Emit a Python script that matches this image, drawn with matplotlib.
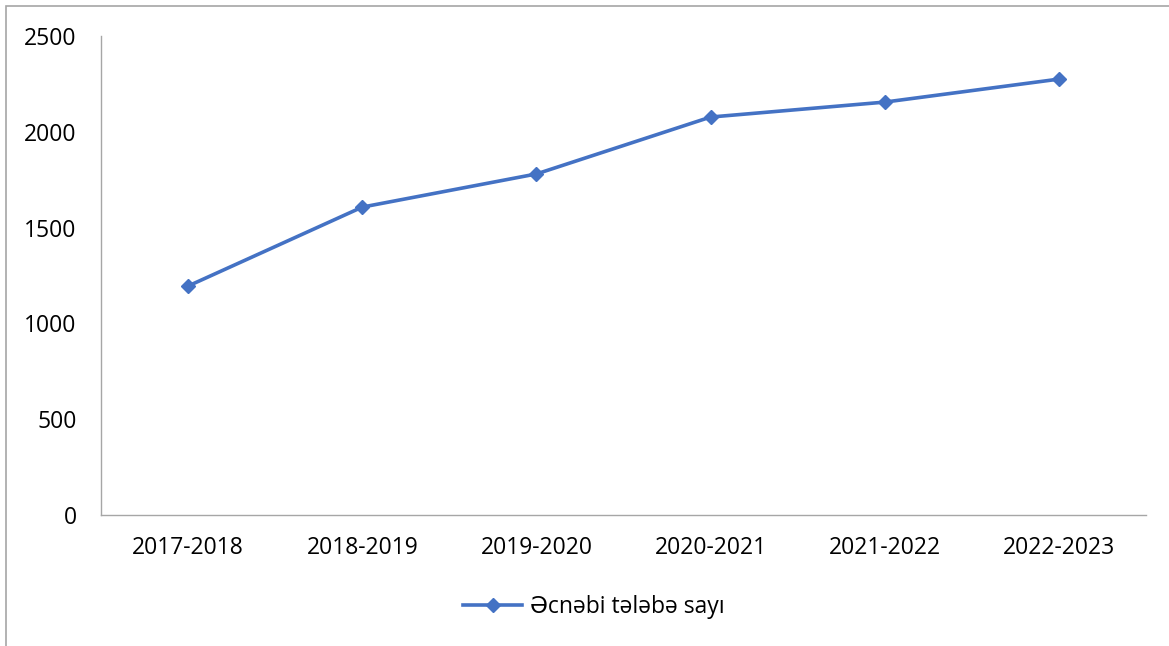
import matplotlib
matplotlib.use("Agg")
import matplotlib.pyplot as plt
from matplotlib.patches import Rectangle

categories = ["2017-2018", "2018-2019", "2019-2020", "2020-2021", "2021-2022", "2022-2023"]
values = [1195, 1607, 1780, 2077, 2155, 2275]
series_name = "Əcnəbi tələbə sayı"
yticks = [0, 500, 1000, 1500, 2000, 2500]

plt.rcParams['font.family'] = ['Open Sans', 'DejaVu Sans']
FS = 16.5

fig = plt.figure(figsize=(11.69, 6.46), dpi=100)
ax = fig.add_axes([101/1169, 1-515/646, (1146-101)/1169, (515-36)/646])

x = list(range(len(categories)))
ax.plot(x, values, color="#4472C4", linewidth=2.6, marker="D", markersize=7.5,
        label=series_name)

ax.set_xlim(-0.5, len(categories) - 0.5)
ax.set_ylim(0, 2500)
ax.set_xticks(x)
ax.set_xticklabels(categories)
ax.set_yticks(yticks)
ax.tick_params(axis='both', length=0, labelsize=FS, colors="#000000")
ax.tick_params(axis='x', pad=15)
ax.tick_params(axis='y', pad=17.5)
for s in ["top", "right"]:
    ax.spines[s].set_visible(False)
for s in ["left", "bottom"]:
    ax.spines[s].set_color("#A6A6A6")
    ax.spines[s].set_linewidth(1.0)

leg = ax.legend(loc="center", bbox_to_anchor=(594/1169, 1-607/646),
                bbox_transform=fig.transFigure, frameon=False, fontsize=FS,
                handlelength=2.6, handletextpad=0.35)

fig.patches.append(Rectangle((6/1169, -0.1), 1.2, 1-6/646+0.1,
                             transform=fig.transFigure, fill=False,
                             edgecolor="#A6A6A6", linewidth=1.2))

fig.savefig("out.png", dpi=100)
